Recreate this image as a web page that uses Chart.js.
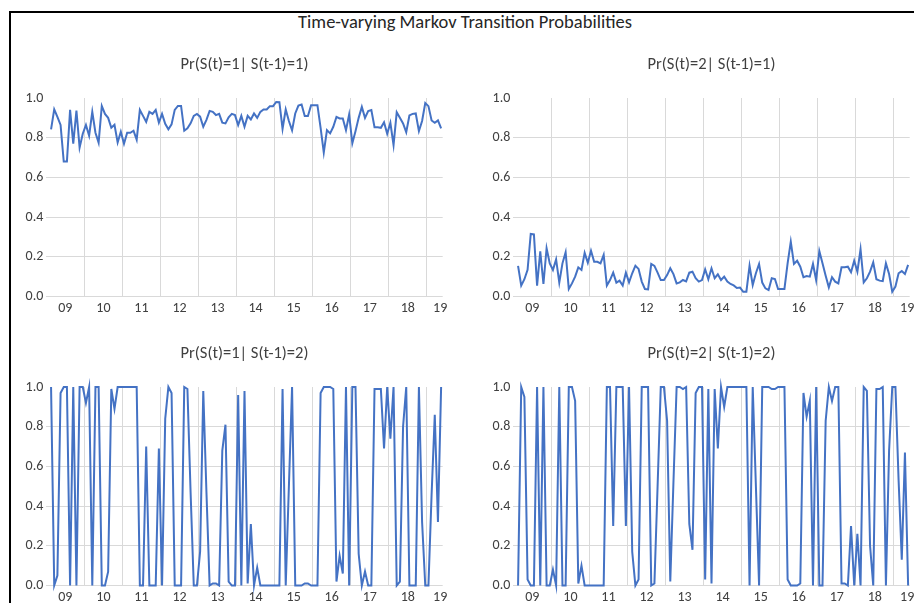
<!DOCTYPE html>
<html>
<head>
<meta charset="utf-8">
<script src="https://cdn.jsdelivr.net/npm/chart.js@4/dist/chart.umd.min.js"></script>
<style>
	html, body { margin:0; padding:0; background:#fff; }
	body { width:914px; height:603px; overflow:hidden; position:relative; font-family: Carlito, Calibri, Lato, sans-serif; }
	#frame { position:absolute; left:9px; top:11px; width:930px; height:620px; border:2px solid #000; box-sizing:border-box; }
	#title { position:absolute; left:9px; width:912px; top:11px; text-align:center; font-size:18.5px; line-height:22px; color:#262626; }
	canvas { position:absolute; }
</style>
</head>
<body>
<div id="frame"></div>
<div id="title">Time-varying Markov Transition Probabilities</div>
<canvas id="c11" width="465" height="270"></canvas>
<canvas id="c21" width="465" height="270"></canvas>
<canvas id="c12" width="465" height="270"></canvas>
<canvas id="c22" width="465" height="270"></canvas>
<script>
// axis runs Jan 2009 .. May 2019 (125 monthly slots), data Feb 2009 .. May 2019
const yearLabels = ['09','10','11','12','13','14','15','16','17','18','19'];
const yTicks = [0, 0.2, 0.4, 0.6, 0.8, 1.0];
const panelTitles = ['Pr(S(t)=1| S(t-1)=1)', 'Pr(S(t)=2| S(t-1)=1)', 'Pr(S(t)=1| S(t-1)=2)', 'Pr(S(t)=2| S(t-1)=2)'];

const p11 = [0.842,0.943,0.905,0.864,0.68,0.68,0.94,0.77,0.936,0.75,0.82,0.864,0.81,0.93,0.825,0.775,0.96,0.92,0.9,0.85,
	0.865,0.776,0.83,0.77,0.825,0.825,0.835,0.79,0.94,0.91,0.88,0.93,0.92,0.94,0.876,0.92,0.87,0.842,0.867,0.94,
	0.96,0.96,0.835,0.847,0.872,0.91,0.92,0.906,0.855,0.89,0.935,0.93,0.914,0.92,0.876,0.872,0.903,0.92,0.914,0.864,
	0.91,0.855,0.91,0.892,0.922,0.9,0.93,0.942,0.942,0.959,0.959,0.98,0.979,0.845,0.942,0.884,0.837,0.922,0.962,0.967,
	0.909,0.909,0.964,0.964,0.964,0.85,0.725,0.838,0.822,0.855,0.905,0.897,0.897,0.838,0.917,0.772,0.833,0.9,0.955,0.9,
	0.934,0.939,0.853,0.853,0.85,0.878,0.82,0.875,0.763,0.928,0.9,0.872,0.828,0.912,0.92,0.922,0.833,0.884,0.975,0.959,
	0.887,0.875,0.887,0.847];
const p21 = [0.154,0.055,0.087,0.134,0.315,0.313,0.055,0.228,0.063,0.243,0.167,0.134,0.187,0.07,0.167,0.223,0.038,0.066,0.1,0.147,
	0.134,0.22,0.17,0.23,0.175,0.175,0.167,0.21,0.055,0.083,0.12,0.07,0.08,0.055,0.12,0.071,0.117,0.155,0.139,0.075,
	0.038,0.036,0.164,0.154,0.12,0.083,0.083,0.108,0.142,0.113,0.066,0.071,0.083,0.076,0.12,0.125,0.092,0.075,0.083,0.137,
	0.087,0.142,0.092,0.112,0.083,0.1,0.075,0.063,0.056,0.043,0.045,0.024,0.024,0.155,0.058,0.117,0.164,0.07,0.041,0.033,
	0.092,0.088,0.038,0.038,0.038,0.167,0.276,0.164,0.18,0.15,0.097,0.103,0.1,0.164,0.083,0.229,0.167,0.105,0.046,0.097,
	0.075,0.066,0.147,0.147,0.15,0.122,0.18,0.125,0.238,0.071,0.092,0.125,0.172,0.087,0.08,0.078,0.167,0.113,0.024,0.05,
	0.117,0.128,0.113,0.159];
const p12 = [1,0,0.05,0.97,1,1,0,1,0,1,1,0.92,1,0,1,1,0,0,0.07,0.99,
	0.89,1,1,1,1,1,1,1,0,0,0.7,0,0,0,0.69,0,0.84,1,0.97,0,
	0,0,1,0.99,0.47,0,0,0.17,0.98,0.47,0,0.01,0.01,0,0.68,0.81,0.02,0,0,0.96,
	0,0.98,0.01,0.31,0,0.09,0,0,0,0,0,0,0,0.99,0,0.5,1,0,0,0,
	0.01,0.01,0,0,0,0.97,1,1,1,0.99,0.02,0.15,0.06,1,0,1,1,0.16,0,0.07,
	0,0,0.99,0.99,0.99,0.69,1,0.74,1,0,0.02,0.8,1,0,0,0,1,0.32,0,0,
	0.46,0.86,0.32,1];
const p22 = [0,1,0.95,0.03,0,0,1,0,1,0,0,0.08,0,1,0,0,1,1,0.93,0.01,
	0.1,0,0,0,0,0,0,0,1,1,0.3,1,1,1,0.3,1,0.17,0,0.03,1,
	1,1,0,0.01,0.5,1,1,0.83,0.02,0.52,1,1,0.99,1,0.31,0.18,0.97,1,1,0.03,
	0.99,0.01,0.99,0.69,1,0.9,1,1,1,1,1,1,1,0,1,0.5,0,1,1,1,
	0.99,0.99,1,1,1,0.03,0,0,0,0.01,0.97,0.85,0.93,0,1,0,0,0.83,1,0.93,
	1,1,0.01,0.01,0,0.3,0,0.26,0,1,0.98,0.2,0,0.99,0.99,1,0,0.68,1,1,
	0.53,0.13,0.67,0];

const LINE = '#4472C4', GRID = '#D9D9D9', TEXT = '#404040';
const FONT = "Carlito, Calibri, Lato, sans-serif";
const SIDE = 34.3; // y label room on the left, same blank room on the right so titles centre on the plot

const makePanel = (id, left, top, title, values) => {
	const el = document.getElementById(id);
	el.style.left = left + 'px';
	el.style.top = top + 'px';
	return new Chart(el, {
		type: 'line',
		data: { datasets: [{
			data: values.map((v, i) => ({ x: i + 1, y: v })),
			borderColor: LINE, borderWidth: 2, pointRadius: 0, tension: 0, clip: false, fill: false
		}] },
		options: {
			responsive: false, animation: false, devicePixelRatio: 1,
			layout: { padding: 0 },
			plugins: {
				legend: { display: false }, tooltip: { enabled: false },
				title: { display: true, text: title, color: TEXT, font: { family: FONT, size: 16.5, weight: 'normal', lineHeight: 1.2 }, padding: { top: 5.1, bottom: 23.1 } }
			},
			scales: {
				x: {
					type: 'linear', min: -0.5, max: 124.5, position: 'bottom',
					grid: { color: GRID, lineWidth: 1, drawTicks: false },
					border: { display: false },
					ticks: { display: false },
					afterBuildTicks: (s) => { s.ticks = yearLabels.slice(1).map((_, k) => ({ value: 11.5 + 12 * k })); },
					afterFit: (s) => { s.height = 0; s.paddingLeft = 0; s.paddingRight = 0; }
				},
				xl: {
					type: 'linear', min: -0.5, max: 124.5, position: 'bottom',
					grid: { display: false, drawTicks: false },
					border: { display: false },
					ticks: { autoSkip: false, maxRotation: 0, padding: 4, color: TEXT, font: { family: FONT, size: 14 },
						callback: (v, idx) => yearLabels[idx] },
					afterBuildTicks: (s) => { s.ticks = yearLabels.map((_, k) => ({ value: Math.min(5.5 + 12 * k, 123.7) })); },
					afterFit: (s) => { s.height = 23.5; s.paddingLeft = 0; s.paddingRight = 0; }
				},
				y: {
					type: 'linear', min: 0, max: 1,
					grid: { color: (ctx) => (ctx.tick && ctx.tick.value === 1) ? 'rgba(0,0,0,0)' : GRID, drawTicks: false },
					border: { display: false },
					ticks: { padding: 3, color: TEXT, font: { family: FONT, size: 14 }, callback: (v) => Number(v).toFixed(1) },
					afterBuildTicks: (s) => { s.ticks = yTicks.map(v => ({ value: v })); },
					afterFit: (s) => { s.width = SIDE; s.paddingTop = 0; s.paddingBottom = 0; }
				},
				yr: {
					type: 'linear', min: 0, max: 1, position: 'right',
					grid: { display: false, drawTicks: false },
					border: { display: false },
					ticks: { display: false },
					afterFit: (s) => { s.width = SIDE; s.paddingTop = 0; s.paddingBottom = 0; }
				}
			}
		}
	});
};

makePanel('c11', 12, 50, panelTitles[0], p11);
makePanel('c21', 478.7, 50, panelTitles[1], p21);
makePanel('c12', 12, 339.3, panelTitles[2], p12);
makePanel('c22', 478.7, 339.3, panelTitles[3], p22);
</script>
</body>
</html>
